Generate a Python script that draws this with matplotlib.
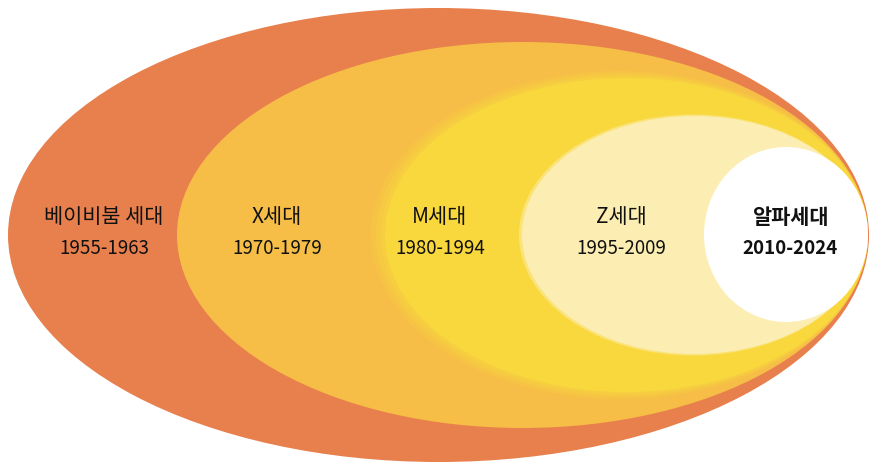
import numpy as np
import matplotlib as mpl
mpl.use('Agg')
import matplotlib.pyplot as plt
from matplotlib.patches import Ellipse

plt.rcParams['font.family'] = ['Noto Sans CJK KR', 'DejaVu Sans']

# generations, outermost first
names  = ['베이비붐 세대', 'X세대', 'M세대', 'Z세대', '알파세대']
years  = ['1955-1963', '1970-1979', '1980-1994', '1995-2009', '2010-2024']
colors = ['#E8804D', '#F6BE46', '#F9D83E', '#FCEEB2', '#FFFFFF']

# ellipse geometry in pixels (left, right, top, bottom)
lefts   = [8, 177, 385, 522, 704]
rights  = [869, 868, 868, 867, 868]
tops    = [8, 42, 78, 116, 147]
bottoms = [462, 428, 392, 354, 322]

# label positions
label_x = [104, 277, 440, 621, 790]
name_y  = 217
year_y  = 248

fig = plt.figure(figsize=(8.69, 4.63), dpi=100)
ax = fig.add_axes([0, 0, 1, 1])
ax.set_xlim(0, 869)
ax.set_ylim(463, 0)
ax.axis('off')

for i in range(len(names)):
    cx = (lefts[i] + rights[i]) / 2.0
    cy = (tops[i] + bottoms[i]) / 2.0
    w = rights[i] - lefts[i]
    h = bottoms[i] - tops[i]
    # soft edge on the M layer
    if i == 2:
        for k, a in zip([14, 9, 4], [0.2, 0.3, 0.4]):
            ax.add_patch(Ellipse((cx - k / 2.0, cy), w + k, h + k,
                                 facecolor=colors[i], edgecolor='none',
                                 alpha=a, zorder=i))
    if i == 3:
        ax.add_patch(Ellipse((cx - 1.5, cy), w + 3, h + 3,
                             facecolor=colors[i], edgecolor='none',
                             alpha=0.5, zorder=i))
    ax.add_patch(Ellipse((cx, cy), w, h, facecolor=colors[i],
                         edgecolor='none', zorder=i + 0.5))

for i in range(len(names)):
    wt = 'bold' if i == len(names) - 1 else 'normal'
    ax.text(label_x[i], name_y, names[i], ha='center', va='center',
            fontsize=15, color='#111111', fontweight=wt, zorder=10)
    ax.text(label_x[i], year_y, years[i], ha='center', va='center',
            fontsize=13.5, color='#111111', fontweight=wt, zorder=10)

plt.savefig('out.png', dpi=100, facecolor='white')
